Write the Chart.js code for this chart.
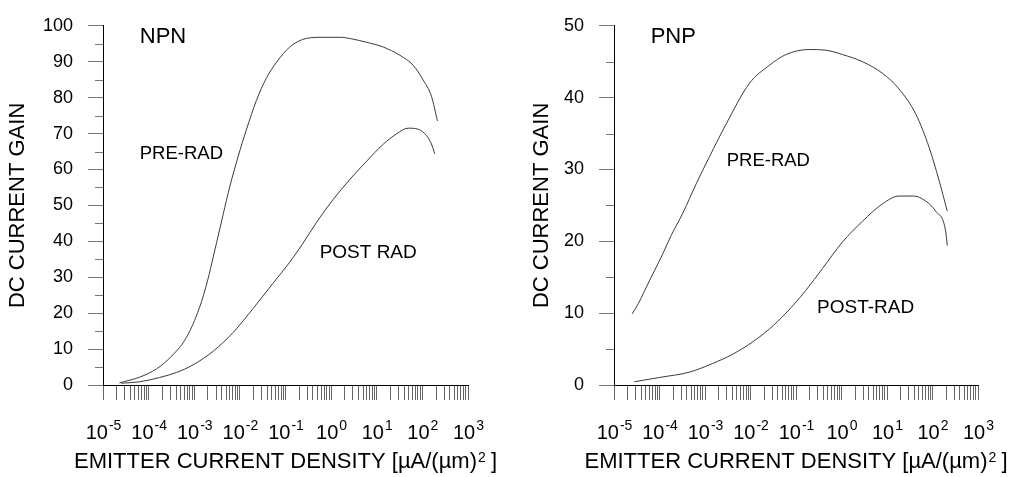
<!DOCTYPE html>
<html lang="en">
<head>
  <meta charset="UTF-8" />
  <title>DC Current Gain vs Emitter Current Density</title>
  <script src="https://cdn.jsdelivr.net/npm/chart.js"></script>
  <style>
    body {
      margin: 0;
      background: #fff;
      width: 1013px;
      height: 477px;
      overflow: hidden;
      position: relative;
    }
    .panel {
      position: absolute;
      top: 0;
      height: 477px;
    }
    #npnBox { left: 0; width: 505px; }
    #pnpBox { left: 524px; width: 489px; }
  </style>
</head>
<body>
  <div class="panel" id="npnBox"><canvas id="npn" width="505" height="477"></canvas></div>
  <div class="panel" id="pnpBox"><canvas id="pnp" width="489" height="477"></canvas></div>

  <script>
    // emitter current density in µA/(µm)^2, gain
    const npnPreX  = [2.3e-5, 6.4e-5, 1.5e-4, 3.4e-4, 6.7e-4, 1.3e-3, 2.0e-3, 2.6e-3, 3.1e-3, 4.3e-3, 6.0e-3, 9.1e-3, 0.014, 0.023, 0.038, 0.064, 0.124, 0.29, 0.67, 1.55, 3.0, 6.0, 13.8, 32, 63, 104, 158, 214];
    const npnPreY  = [0.6, 2.2, 4.5, 8.4, 13.2, 21.5, 29.5, 35.6, 39.7, 47.5, 55.2, 63.5, 71.2, 79.2, 85.4, 89.9, 94.1, 96.5, 96.8, 96.8, 96.3, 95.4, 94.1, 91.8, 89.0, 84.9, 80.4, 73.5];
    const npnPostX = [2.5e-5, 6.4e-5, 1.75e-4, 4.1e-4, 9.4e-4, 2.6e-3, 7.1e-3, 0.0195, 0.053, 0.124, 0.243, 0.48, 1.1, 2.6, 6.0, 13.8, 27, 49, 81, 124, 158, 186];
    const npnPostY = [0.5, 0.9, 2.1, 3.5, 5.6, 9.4, 14.6, 21.3, 28.3, 34.2, 39.5, 45.3, 51.6, 57.3, 62.3, 67.0, 69.9, 71.5, 71.2, 69.4, 67.1, 64.4];

    const pnpPreX  = [2.5e-5, 3.4e-5, 6.1e-5, 1.19e-4, 1.8e-4, 3.3e-4, 6.4e-4, 1.26e-3, 2.9e-3, 9.5e-3, 0.026, 0.060, 0.196, 0.455, 1.05, 2.9, 7.9, 18.4, 43, 84, 139, 211];
    const pnpPreY  = [9.9, 11.3, 14.6, 18.3, 20.8, 24.0, 28.0, 31.8, 36.3, 42.0, 44.5, 46.0, 46.7, 46.6, 46.0, 45.0, 43.4, 41.2, 37.7, 33.1, 28.5, 24.2];
    const pnpPostX = [2.8e-5, 1.0e-4, 4.6e-4, 1.48e-3, 4.1e-3, 0.0112, 0.026, 0.060, 0.166, 0.38, 1.05, 2.9, 7.9, 18.4, 39, 71, 117, 195, 211];
    const pnpPostY = [0.45, 1.05, 1.8, 3.0, 4.3, 6.0, 7.8, 10.0, 13.2, 16.2, 19.9, 22.8, 25.2, 26.3, 26.3, 25.6, 24.2, 21.4, 19.4];

    // decade exponents shown under the x axis
    const decadeExps = [-5, -4, -3, -2, -1, 0, 1, 2, 3];
    const xTitle = 'EMITTER CURRENT DENSITY [µA/(µm)';
    const yTitle = 'DC CURRENT GAIN';

    // text placed inside the plots, in data units
    const npnNotes = [
      { text: 'NPN', x: 6.4e-5, y: 96.8, size: 22 },
      { text: 'PRE-RAD', x: 6.4e-5, y: 64.4, size: 18.5 },
      { text: 'POST RAD', x: 0.56, y: 36.7, size: 19 }
    ];
    const pnpNotes = [
      { text: 'PNP', x: 6.4e-5, y: 48.4, size: 22 },
      { text: 'PRE-RAD', x: 3.0e-3, y: 31.2, size: 18.5 },
      { text: 'POST-RAD', x: 0.29, y: 10.7, size: 19 }
    ];

    const FONT = '"Liberation Sans", Arial, sans-serif';

    // every 1..9 x 10^n mark on the log axis
    const xTickValues = [];
    for (let e = -5; e < 3; e++) {
      for (let k = 1; k <= 9; k++) xTickValues.push(Number(k + 'e' + e));
    }
    xTickValues.push(1e3);

    const toPoints = (xs, ys) => xs.map((x, i) => ({ x: x, y: ys[i] }));

    const axisText = {
      id: 'axisText',
      afterDraw(chart, args, opts) {
        const { ctx, chartArea, scales: { x, y } } = chart;
        ctx.save();

        // short minor ticks on the y axis
        ctx.strokeStyle = '#777';
        ctx.lineWidth = 1;
        y.ticks.forEach(t => {
          if (t.value % 10 === 0) return;
          const py = Math.round(y.getPixelForValue(t.value)) + 0.5;
          ctx.beginPath();
          ctx.moveTo(chartArea.left - 8, py);
          ctx.lineTo(chartArea.left, py);
          ctx.stroke();
        });

        ctx.fillStyle = '#000';
        ctx.textAlign = 'left';
        ctx.textBaseline = 'alphabetic';

        // 10^n labels
        const base = '20px ' + FONT;
        const sup = '14px ' + FONT;
        decadeExps.forEach(e => {
          const px = x.getPixelForValue(Number('1e' + e));
          const s = String(e);
          ctx.font = base;
          const w1 = ctx.measureText('10').width;
          ctx.font = sup;
          const w2 = ctx.measureText(s).width;
          const left = px - (w1 + w2) / 2;
          ctx.font = base;
          ctx.fillText('10', left, chartArea.bottom + 54);
          ctx.font = sup;
          ctx.fillText(s, left + w1 + 1, chartArea.bottom + 45);
        });

        // x axis title with squared unit
        const tFont = '22px ' + FONT;
        ctx.font = tFont;
        const wa = ctx.measureText(xTitle).width;
        const wb = ctx.measureText(' ]').width;
        ctx.font = '14px ' + FONT;
        const w2 = ctx.measureText('2').width;
        const cx = (chartArea.left + chartArea.right) / 2;
        const start = cx - (wa + w2 + wb) / 2;
        const ty = chartArea.bottom + 83;
        ctx.font = tFont;
        ctx.fillText(xTitle, start, ty);
        ctx.font = '14px ' + FONT;
        ctx.fillText('2', start + wa + 1, ty - 6);
        ctx.font = tFont;
        ctx.fillText(' ]', start + wa + w2, ty);

        // in-plot notes
        ctx.textBaseline = 'middle';
        opts.notes.forEach(n => {
          ctx.font = n.size + 'px ' + FONT;
          ctx.fillText(n.text, x.getPixelForValue(n.x), y.getPixelForValue(n.y));
        });

        ctx.restore();
      }
    };

    function makeChart(id, pre, post, yMax, notes, yWidth, padRight) {
      const line = {
        borderColor: '#3a3a3a',
        borderWidth: 1,
        pointRadius: 0,
        fill: false,
        cubicInterpolationMode: 'monotone'
      };
      return new Chart(document.getElementById(id), {
        type: 'line',
        data: {
          datasets: [
            Object.assign({ label: 'PRE-RAD', data: pre }, line),
            Object.assign({ label: 'POST-RAD', data: post }, line)
          ]
        },
        options: {
          responsive: false,
          animation: false,
          events: [],
          layout: { padding: { top: 20, left: 0, right: padRight, bottom: 0 } },
          plugins: {
            legend: { display: false },
            tooltip: { enabled: false },
            axisText: { notes: notes }
          },
          scales: {
            x: {
              type: 'logarithmic',
              min: 1e-5,
              max: 1e3,
              afterBuildTicks: s => { s.ticks = xTickValues.map(v => ({ value: v })); },
              afterFit: s => { s.height = 92; },
              ticks: { display: false, autoSkip: false },
              grid: { drawOnChartArea: false, drawTicks: true, tickLength: 15, tickColor: '#666' },
              border: { display: true, color: '#000', width: 1 }
            },
            y: {
              type: 'linear',
              min: 0,
              max: yMax,
              afterFit: s => { s.width = yWidth; },
              ticks: {
                stepSize: 5,
                autoSkip: false,
                padding: 15,
                color: '#000',
                font: { family: FONT, size: 18 },
                callback: v => (v % 10 === 0 ? v : '')
              },
              grid: {
                drawOnChartArea: false,
                drawTicks: true,
                tickLength: 15,
                tickColor: c => (c.tick && c.tick.value % 10 === 0 ? '#777' : 'rgba(0,0,0,0)')
              },
              border: { display: true, color: '#000', width: 1 },
              title: {
                display: true,
                text: yTitle,
                color: '#000',
                font: { family: FONT, size: 22 },
                padding: { top: 5, bottom: 0 }
              }
            }
          }
        },
        plugins: [axisText]
      });
    }

    makeChart('npn', toPoints(npnPreX, npnPreY), toPoints(npnPostX, npnPostY), 100, npnNotes, 103, 37);
    makeChart('pnp', toPoints(pnpPreX, pnpPreY), toPoints(pnpPostX, pnpPostY), 50, pnpNotes, 90, 35);
  </script>
</body>
</html>
